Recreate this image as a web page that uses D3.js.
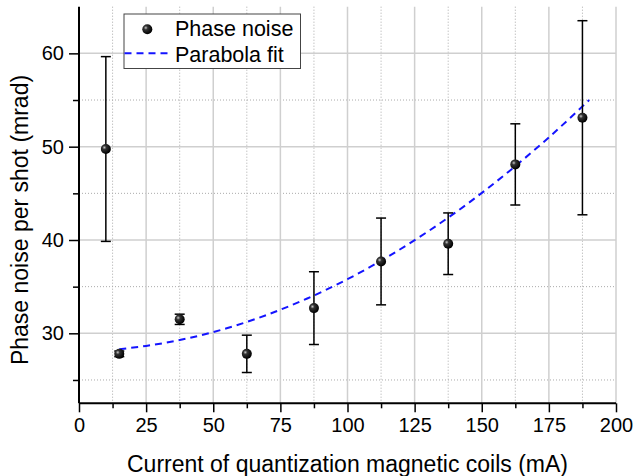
<!DOCTYPE html>
<html><head><meta charset="utf-8">
<script src="https://cdn.jsdelivr.net/npm/d3@7/dist/d3.min.js"></script>
<style>body{margin:0;background:#fff}svg{display:block}</style>
</head><body>
<svg id="chart" width="636" height="476"></svg>
<script>
// Data
const currents   = [10, 15, 37.5, 62.5, 87.5, 112.5, 137.5, 162.5, 187.5];
const phaseNoise = [49.75, 27.8, 31.5, 27.8, 32.7, 37.7, 39.6, 48.1, 53.1];
const errors     = [9.9, 0.3, 0.55, 2.0, 3.9, 4.65, 3.3, 4.35, 10.4];
const fitX = [15, 25, 40, 55, 70, 85, 100, 115, 130, 145, 160, 175, 190];
const fitY = [28.3, 28.65, 29.43, 30.54, 31.98, 33.73, 35.8, 38.2, 40.92, 43.95, 47.32, 51.0, 55.0];
const xTicks = [0, 25, 50, 75, 100, 125, 150, 175, 200];
const xMinor = [12.5, 37.5, 62.5, 87.5, 112.5, 137.5, 162.5, 187.5];
const yTicks = [30, 40, 50, 60];
const yMinor = [25, 35, 45, 55];
const legendLabels = ["Phase noise", "Parabola fit"];

const svg = d3.select("#chart");
const L = 79, R = 616, T = 6.7, B = 403.3;
const x = d3.scaleLinear().domain([0, 200]).range([L, R]);
const y = d3.scaleLinear().domain([22.5, 65]).range([B, T]);
const font = "Arial, 'Liberation Sans', sans-serif";

const defs = svg.append("defs");
const grad = defs.append("radialGradient").attr("id", "ball")
  .attr("cx", "35%").attr("cy", "35%").attr("r", "65%");
grad.append("stop").attr("offset", "0%").attr("stop-color", "#c8c8c8");
grad.append("stop").attr("offset", "30%").attr("stop-color", "#333");
grad.append("stop").attr("offset", "100%").attr("stop-color", "#000");

// grid
const g = svg.append("g");
g.selectAll(".ym").data(yMinor).join("line")
  .attr("x1", L).attr("x2", R).attr("y1", d => y(d)).attr("y2", d => y(d))
  .attr("stroke", "#aaa").attr("stroke-width", 1).attr("stroke-dasharray", "1,2");
g.selectAll(".xm").data(xMinor).join("line")
  .attr("y1", T).attr("y2", B).attr("x1", d => x(d)).attr("x2", d => x(d))
  .attr("stroke", "#aaa").attr("stroke-width", 1).attr("stroke-dasharray", "1,2");
g.selectAll(".yM").data(yTicks).join("line")
  .attr("x1", L).attr("x2", R).attr("y1", d => y(d)).attr("y2", d => y(d))
  .attr("stroke", "#cfcfcf").attr("stroke-width", 1.5);
g.selectAll(".xM").data(xTicks.slice(1)).join("line")
  .attr("y1", T).attr("y2", B).attr("x1", d => x(d)).attr("x2", d => x(d))
  .attr("stroke", "#cfcfcf").attr("stroke-width", 1.5);

// axes
const xAxis = d3.axisBottom(x).tickValues(xTicks).tickSize(9).tickPadding(6).tickFormat(d3.format("d"));
const xAxisMinor = d3.axisBottom(x).tickValues(xMinor).tickSize(5).tickFormat("");
const yAxis = d3.axisLeft(y).tickValues(yTicks).tickSize(10).tickPadding(5).tickFormat(d3.format("d"));
const yAxisMinor = d3.axisLeft(y).tickValues(yMinor).tickSize(6).tickFormat("");

function styleAxis(sel) {
  sel.select(".domain").attr("stroke", "#000").attr("stroke-width", 2);
  sel.selectAll(".tick line").attr("stroke", "#000").attr("stroke-width", 1.5);
  sel.selectAll("text").attr("font-family", font).attr("font-size", 20).attr("fill", "#000");
}
svg.append("g").attr("transform", `translate(0,${B})`).call(xAxisMinor).call(styleAxis).select(".domain").remove();
svg.append("g").attr("transform", `translate(${L},0)`).call(yAxisMinor).call(styleAxis).select(".domain").remove();
svg.append("g").attr("transform", `translate(0,${B})`).call(xAxis).call(styleAxis)
  .select(".domain").attr("d", `M${L},0H${R}`);
svg.append("g").attr("transform", `translate(${L},0)`).call(yAxis).call(styleAxis)
  .select(".domain").attr("d", `M0,${B}V${T}`);

// axis titles
svg.append("text").attr("x", (L + R) / 2).attr("y", 471.5).attr("text-anchor", "middle")
  .attr("font-family", font).attr("font-size", 23).text("Current of quantization magnetic coils (mA)");
svg.append("text").attr("transform", "translate(28,220) rotate(-90)").attr("text-anchor", "middle")
  .attr("font-family", font).attr("font-size", 23).text("Phase noise per shot (mrad)");

// fit line
const fitData = fitX.map((v, i) => [v, fitY[i]]);
svg.append("path").datum(fitData)
  .attr("d", d3.line().x(d => x(d[0])).y(d => y(d[1])).curve(d3.curveMonotoneX))
  .attr("fill", "none").attr("stroke", "#1414ff").attr("stroke-width", 2).attr("stroke-dasharray", "7,5");

// error bars
const pts = currents.map((c, i) => ({ x: c, y: phaseNoise[i], e: errors[i] }));
const eb = svg.append("g").attr("stroke", "#000").attr("stroke-width", 1.5);
eb.selectAll(".v").data(pts).join("line")
  .attr("x1", d => x(d.x)).attr("x2", d => x(d.x))
  .attr("y1", d => y(d.y - d.e)).attr("y2", d => y(d.y + d.e));
eb.selectAll(".t").data(pts).join("line")
  .attr("x1", d => x(d.x) - 5).attr("x2", d => x(d.x) + 5)
  .attr("y1", d => y(d.y + d.e)).attr("y2", d => y(d.y + d.e));
eb.selectAll(".b").data(pts).join("line")
  .attr("x1", d => x(d.x) - 5).attr("x2", d => x(d.x) + 5)
  .attr("y1", d => y(d.y - d.e)).attr("y2", d => y(d.y - d.e));

// markers
svg.selectAll(".pt").data(pts).join("circle")
  .attr("cx", d => x(d.x)).attr("cy", d => y(d.y)).attr("r", 5)
  .attr("fill", "url(#ball)");

// legend
const lg = svg.append("g");
lg.append("rect").attr("x", 124).attr("y", 14).attr("width", 176.5).attr("height", 54.5)
  .attr("fill", "#fff").attr("stroke", "#444").attr("stroke-width", 1);
lg.append("circle").attr("cx", 147.3).attr("cy", 29.3).attr("r", 5).attr("fill", "url(#ball)");
lg.append("line").attr("x1", 124.5).attr("x2", 169.5).attr("y1", 53.3).attr("y2", 53.3)
  .attr("stroke", "#1414ff").attr("stroke-width", 2).attr("stroke-dasharray", "7,5");
lg.selectAll(".lt").data(legendLabels).join("text")
  .attr("x", 175).attr("y", (d, i) => 35.5 + i * 26.5)
  .attr("font-family", font).attr("font-size", 21.5).attr("fill", "#000").text(d => d);
</script>
</body></html>
